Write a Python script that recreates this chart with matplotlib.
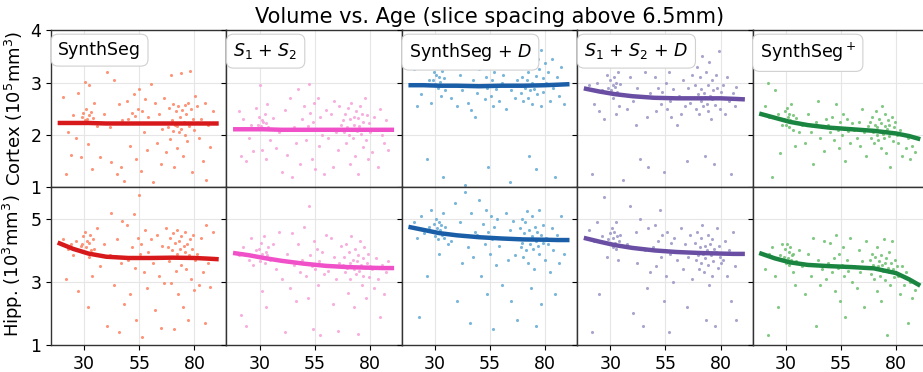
import matplotlib
matplotlib.use("Agg")
import matplotlib.pyplot as plt

# ages of the subjects (shared by all panels)
ages = [20.5, 21.8, 22.6, 23.9, 25.1, 26.3, 27.2, 28.4,
        29.1, 29.7, 30.2, 30.6, 31.0, 31.3, 31.7, 32.0, 32.4, 32.8, 33.1, 33.5, 34.0, 34.6, 35.9,
        37.4, 38.9, 40.2, 41.5, 42.3, 43.6, 44.8, 45.7, 46.5, 47.3, 48.2,
        49.3, 50.1, 50.9, 51.8, 52.5, 53.0, 53.6, 54.2, 54.8, 55.3, 55.9, 56.4, 57.0, 57.6, 58.3, 59.1, 60.2,
        61.0, 62.2, 63.1, 63.9, 64.7, 65.4, 66.2, 67.1,
        67.9, 68.4, 68.8, 69.3, 69.7, 70.1, 70.5, 70.9, 71.2, 71.6, 72.0, 72.3, 72.7, 73.0, 73.4, 73.8,
        74.1, 74.5, 74.8, 75.2, 75.6, 75.9, 76.3, 76.7, 77.0, 77.4, 77.9, 78.3, 78.8, 79.2, 79.7, 80.3,
        81.1, 82.0, 82.9, 83.7, 84.6, 85.4, 86.3, 87.2, 88.4]

# cortex volumes (10^5 mm^3)
cortex_synthseg = [2.72, 1.26, 2.05, 1.62, 2.38, 1.95, 2.80, 1.58,
                   2.35, 2.42, 3.02, 2.28, 2.50, 2.31, 1.82, 2.38, 2.95, 2.25, 2.44, 1.36, 2.33, 2.62, 2.18,
                   1.58, 2.40, 3.20, 2.15, 1.48, 3.05, 1.25, 2.60, 1.40, 2.28, 1.12,
                   2.65, 2.30, 1.80, 2.42, 2.78, 2.36, 1.55, 2.50, 2.88, 2.22, 1.32, 2.45, 2.05, 2.68, 1.72, 2.35, 2.98,
                   1.10, 2.62, 1.85, 2.40, 1.45, 2.12, 2.70, 1.68,
                   2.15, 2.52, 1.92, 3.15, 2.28, 2.08, 2.60, 1.40, 2.20, 2.45, 2.18, 1.75, 2.55, 2.05, 2.35, 3.18,
                   2.12, 2.48, 1.60, 2.25, 2.58, 2.00, 2.40, 1.88, 2.62, 2.18, 3.22, 2.50, 1.30, 2.30, 2.10, 2.75,
                   2.55, 1.95, 2.30, 1.50, 2.62, 1.15, 2.20, 1.78, 2.45]
cortex_s1s2 = [2.45, 1.60, 2.30, 1.50, 1.95, 2.20, 1.70, 2.52,
               2.20, 2.35, 2.95, 2.18, 2.28, 1.72, 2.25, 2.12, 2.40, 1.55, 2.22, 2.60, 2.15, 1.90, 2.32,
               1.75, 2.05, 1.30, 2.48, 1.62, 2.70, 1.20, 2.15, 1.85, 2.88, 1.45,
               2.30, 2.55, 1.90, 2.18, 2.98, 2.42, 1.55, 2.25, 2.62, 1.35, 2.10, 2.70, 1.80, 2.35, 2.00, 1.25, 2.48,
               1.95, 2.40, 1.40, 2.65, 2.05, 1.72, 2.55, 2.20,
               2.28, 2.05, 2.40, 1.85, 2.15, 2.52, 2.00, 1.45, 2.30, 2.62, 2.10, 1.95, 2.35, 2.20, 1.60, 2.45,
               2.08, 2.32, 1.25, 2.18, 2.55, 2.02, 2.40, 1.78, 2.25, 2.12, 2.70, 1.90, 2.38, 1.55, 2.22, 2.05,
               1.68, 2.35, 2.10, 1.40, 2.50, 2.00, 1.85, 2.28, 1.72]
cortex_synthseg_d = [3.25, 2.55, 2.95, 2.78, 3.35, 1.55, 3.05, 2.62,
                     3.05, 3.20, 2.98, 3.15, 3.30, 2.90, 3.10, 3.55, 3.02, 2.75, 3.22, 1.20, 3.08, 2.85, 3.40,
                     2.70, 3.35, 2.55, 3.15, 2.85, 1.05, 2.62, 3.28, 2.48, 3.05, 2.35,
                     2.80, 3.25, 2.95, 3.60, 2.68, 3.10, 2.90, 1.40, 3.35, 2.75, 3.05, 2.55, 3.20, 2.88, 3.45, 2.65, 3.00,
                     3.15, 2.50, 3.30, 1.10, 2.85, 3.50, 2.70, 3.05,
                     2.95, 3.30, 2.80, 3.55, 3.10, 2.65, 3.40, 2.90, 3.75, 3.05, 2.70, 3.20, 1.60, 2.85, 3.50, 3.00,
                     2.60, 3.35, 2.88, 3.85, 3.12, 1.35, 2.78, 3.45, 2.95, 3.25, 2.55, 3.62, 3.08, 2.82, 3.38, 3.00,
                     3.20, 2.65, 3.45, 2.90, 1.20, 3.10, 2.75, 3.30, 2.60]
cortex_s1s2_d = [2.95, 1.25, 2.60, 3.00, 2.45, 2.85, 2.30, 3.15,
                 2.90, 3.05, 2.85, 3.35, 2.95, 2.70, 3.10, 2.92, 2.40, 3.00, 2.82, 3.20, 2.55, 2.98, 1.15,
                 2.50, 3.10, 2.65, 2.20, 2.90, 1.55, 2.75, 3.20, 2.35, 1.40, 2.80,
                 2.70, 3.10, 2.45, 2.90, 3.35, 2.60, 2.82, 1.30, 2.72, 3.00, 2.50, 3.20, 2.65, 2.35, 2.88, 3.45, 2.20,
                 2.75, 2.40, 3.05, 2.55, 1.50, 2.90, 2.62, 3.15,
                 2.70, 2.95, 2.50, 3.30, 2.78, 2.40, 3.10, 2.65, 2.88, 3.50, 2.55, 2.80, 1.60, 2.72, 3.20, 2.60,
                 2.95, 2.45, 3.40, 2.75, 2.30, 3.05, 2.68, 2.85, 1.45, 2.58, 3.15, 2.90, 2.70, 3.60, 2.50, 2.82,
                 2.95, 2.40, 3.10, 2.65, 1.25, 2.80, 2.55, 2.92, 2.70]
cortex_synthseg_plus = [2.55, 3.00, 2.35, 1.20, 2.85, 2.40, 1.65, 2.20,
                        2.30, 2.45, 2.20, 2.52, 2.35, 2.15, 2.40, 2.28, 2.60, 2.25, 2.10, 2.38, 1.80, 2.32, 2.05,
                        2.20, 1.85, 2.40, 2.05, 1.45, 2.25, 2.65, 1.95, 2.15, 1.70, 2.30,
                        2.20, 2.05, 2.35, 1.90, 2.15, 2.60, 2.10, 1.75, 2.25, 2.00, 2.40, 2.12, 1.50, 2.30, 2.08, 1.85, 2.22,
                        2.10, 1.95, 2.25, 1.80, 2.50, 2.05, 1.60, 2.18,
                        2.10, 2.25, 1.95, 2.35, 2.05, 1.85, 2.20, 2.45, 2.00, 2.15, 1.90, 2.30, 2.08, 1.75, 2.22, 2.55,
                        2.02, 1.95, 2.18, 2.40, 1.65, 2.12, 2.28, 1.98, 2.20, 1.40, 2.05, 2.35, 1.88, 2.15, 2.25, 2.00,
                        1.85, 2.10, 1.60, 2.00, 1.75, 1.95, 1.55, 1.80, 1.68]

# hippocampus volumes (10^3 mm^3)
hipp_synthseg = [4.35, 3.10, 4.05, 4.20, 3.85, 4.30, 2.70, 4.15,
                 4.20, 4.45, 3.95, 4.60, 4.10, 4.30, 2.20, 4.25, 3.80, 4.50, 4.00, 3.20, 4.35, 4.05, 4.70,
                 3.50, 4.20, 1.60, 3.85, 5.20, 2.90, 4.35, 1.40, 3.60, 4.95, 2.30,
                 4.80, 3.70, 2.60, 4.10, 5.15, 3.45, 1.80, 4.40, 5.75, 3.90, 4.20, 1.25, 3.30, 4.65, 2.80, 3.95, 4.35,
                 3.60, 2.10, 4.50, 3.20, 1.55, 4.15, 2.95, 4.70,
                 4.10, 3.65, 4.40, 2.95, 4.00, 4.55, 3.80, 1.50, 4.25, 3.35, 4.65, 3.90, 2.60, 4.30, 4.05, 3.55,
                 4.45, 3.75, 2.20, 4.15, 3.95, 4.60, 3.40, 4.20, 1.80, 3.85, 4.35, 3.10, 4.05, 4.50, 2.75, 3.70,
                 3.90, 2.90, 4.40, 3.30, 1.70, 4.80, 3.60, 2.85, 4.60]
hipp_s1s2 = [3.85, 1.95, 4.10, 1.60, 3.70, 4.40, 3.55, 4.00,
             3.80, 4.05, 3.65, 4.25, 3.90, 2.70, 3.75, 4.45, 3.60, 3.95, 2.20, 3.85, 4.10, 3.70, 4.20,
             3.40, 4.60, 3.10, 1.40, 3.90, 2.80, 4.55, 3.55, 2.40, 4.20, 3.30,
             3.70, 4.75, 3.20, 2.50, 5.40, 3.85, 3.50, 1.50, 4.30, 3.40, 4.05, 2.90, 3.65, 1.30, 3.95, 3.25, 4.50,
             3.35, 4.40, 2.30, 3.80, 3.10, 1.45, 3.60, 4.15,
             3.55, 3.80, 3.30, 4.20, 3.45, 2.65, 3.95, 3.60, 3.10, 4.45, 3.50, 3.70, 2.20, 3.40, 4.05, 3.25,
             3.65, 1.35, 3.85, 3.35, 4.30, 3.55, 2.90, 3.75, 3.20, 4.10, 3.45, 2.50, 3.60, 3.90, 3.15, 3.50,
             3.40, 2.80, 3.75, 3.10, 1.90, 3.55, 2.60, 3.30, 3.65]
hipp_synthseg_d = [4.90, 4.40, 1.90, 5.10, 4.55, 3.20, 4.75, 5.30,
                   4.60, 4.85, 4.45, 5.00, 4.70, 4.35, 4.90, 3.90, 4.65, 4.80, 4.50, 5.20, 4.40, 4.75, 4.20,
                   4.30, 5.50, 2.40, 4.90, 3.60, 5.85, 4.10, 1.70, 5.20, 3.80, 4.60,
                   4.50, 5.60, 3.20, 4.85, 4.20, 5.30, 2.60, 4.60, 3.90, 5.10, 4.35, 1.50, 4.75, 3.55, 5.00, 4.15, 2.90,
                   4.40, 5.20, 3.70, 4.65, 2.40, 4.95, 3.85, 1.80,
                   4.40, 4.70, 4.10, 5.00, 4.25, 3.80, 4.55, 4.90, 4.00, 5.25, 4.35, 3.60, 4.65, 4.20, 2.80, 4.45,
                   5.10, 4.05, 3.40, 4.75, 4.30, 1.60, 4.60, 4.15, 5.30, 3.90, 4.50, 2.30, 4.80, 4.25, 3.70, 4.40,
                   4.20, 3.30, 4.70, 4.00, 2.60, 4.50, 3.60, 5.10, 3.90]
hipp_s1s2_d = [4.65, 1.40, 4.30, 4.90, 2.60, 4.45, 5.70, 3.80,
               4.35, 4.55, 4.20, 4.70, 4.40, 4.10, 4.60, 4.25, 4.90, 4.05, 4.45, 3.70, 4.30, 4.50, 4.15,
               4.20, 5.40, 2.00, 4.60, 3.60, 5.00, 1.60, 4.00, 2.80, 4.70, 3.30,
               4.10, 4.80, 3.50, 4.30, 5.30, 3.80, 4.50, 2.40, 4.00, 3.20, 4.60, 1.40, 3.90, 4.25, 3.00, 4.40, 3.70,
               3.95, 4.70, 3.40, 4.20, 2.20, 3.80, 4.50, 3.10,
               3.95, 4.25, 3.70, 4.60, 3.85, 3.40, 4.10, 4.40, 3.60, 4.80, 3.90, 3.30, 4.15, 3.75, 1.80, 4.00,
               4.50, 3.55, 2.90, 4.20, 3.85, 3.20, 4.35, 3.65, 4.05, 1.60, 3.95, 4.70, 3.45, 4.15, 3.80, 3.60,
               3.70, 4.30, 3.20, 4.00, 2.40, 4.60, 3.50, 1.80, 3.90]
hipp_synthseg_plus = [3.40, 1.30, 3.90, 4.10, 3.20, 2.20, 3.85, 4.20,
                      3.80, 4.05, 3.60, 4.20, 3.75, 3.95, 3.55, 4.10, 3.70, 3.85, 3.30, 3.90, 2.90, 3.65, 4.00,
                      3.50, 2.60, 3.90, 3.20, 4.40, 1.60, 3.70, 2.90, 3.40, 4.30, 3.10,
                      3.60, 4.25, 3.30, 3.75, 2.70, 4.50, 3.45, 3.90, 2.40, 3.55, 4.10, 3.20, 1.90, 3.70, 3.35, 4.40, 3.00,
                      3.50, 2.80, 4.00, 3.30, 3.65, 2.20, 4.30, 3.45,
                      3.45, 3.70, 3.25, 3.90, 3.55, 3.10, 3.80, 3.40, 2.70, 4.10, 3.50, 3.65, 3.20, 3.85, 2.40, 3.55,
                      3.35, 4.35, 3.60, 3.05, 3.75, 1.30, 3.45, 3.95, 3.30, 2.90, 3.60, 4.30, 3.40, 3.15, 3.70, 3.50,
                      3.20, 2.60, 3.50, 2.90, 3.30, 1.70, 3.00, 2.50, 2.75]

# fitted trends
fit_ages = [18, 25, 32, 40, 50, 60, 70, 80, 86, 91]
fit_cortex = [
    [2.23, 2.23, 2.23, 2.22, 2.22, 2.22, 2.22, 2.22, 2.22, 2.22],
    [2.11, 2.11, 2.11, 2.10, 2.10, 2.10, 2.10, 2.10, 2.10, 2.10],
    [2.95, 2.95, 2.94, 2.94, 2.93, 2.94, 2.94, 2.95, 2.96, 2.97],
    [2.89, 2.83, 2.78, 2.74, 2.71, 2.70, 2.70, 2.70, 2.69, 2.68],
    [2.41, 2.33, 2.25, 2.19, 2.14, 2.11, 2.08, 2.03, 1.98, 1.92],
]
fit_hipp = [
    [4.25, 4.05, 3.90, 3.80, 3.76, 3.76, 3.77, 3.76, 3.74, 3.72],
    [3.92, 3.85, 3.76, 3.67, 3.58, 3.51, 3.47, 3.45, 3.44, 3.44],
    [4.75, 4.65, 4.55, 4.48, 4.42, 4.38, 4.35, 4.34, 4.33, 4.33],
    [4.40, 4.28, 4.17, 4.08, 4.00, 3.95, 3.92, 3.90, 3.89, 3.89],
    [3.92, 3.75, 3.62, 3.54, 3.50, 3.47, 3.43, 3.28, 3.08, 2.88],
]

methods = ["SynthSeg", "$S_1$ + $S_2$", "SynthSeg + $D$", "$S_1$ + $S_2$ + $D$", "SynthSeg$^+$"]
cortex_data = [cortex_synthseg, cortex_s1s2, cortex_synthseg_d, cortex_s1s2_d, cortex_synthseg_plus]
hipp_data = [hipp_synthseg, hipp_s1s2, hipp_synthseg_d, hipp_s1s2_d, hipp_synthseg_plus]
point_colors = ["#fc8a6a", "#f7a6dc", "#6aaed6", "#9e9ac8", "#74c476"]
line_colors = ["#d7191c", "#f050c8", "#1b5ea8", "#6a4ea3", "#1a8540"]

fig, axes = plt.subplots(2, 5, figsize=(9.23, 3.72), dpi=100, sharex=True)
fig.subplots_adjust(left=0.0553, right=1.0054, top=0.919, bottom=0.073, wspace=0, hspace=0)

for j in range(5):
    for i, (data, fits) in enumerate([(cortex_data, fit_cortex), (hipp_data, fit_hipp)]):
        ax = axes[i, j]
        ax.scatter(ages, data[j], s=5, color=point_colors[j], alpha=0.9, linewidths=0, zorder=2)
        ax.plot(fit_ages, fits[j], color=line_colors[j], linewidth=3.2, solid_capstyle='butt', zorder=3)
        ax.set_xlim(15, 94.5)
        ax.grid(True, color='#e6e6e6', linewidth=0.8, zorder=0)
        ax.set_axisbelow(True)
        for sp in ax.spines.values():
            sp.set_color('#333333')
            sp.set_linewidth(1.0)
        if i == 0:
            ax.set_ylim(1, 4)
            ax.set_yticks([1, 2, 3, 4])
            ax.text(0.04, 0.93, methods[j], transform=ax.transAxes, fontsize=12.5,
                    va='top', ha='left',
                    bbox=dict(boxstyle='round,pad=0.4', fc='white', ec='#d0d0d0', lw=0.8))
        else:
            ax.set_ylim(1, 6)
            ax.set_yticks([1, 3, 5])
        ax.set_xticks([30, 55, 80])
        ax.tick_params(labelsize=12.5)
        if j > 0:
            ax.tick_params(labelleft=False)

axes[0, 0].set_ylabel("Cortex (10$^5$mm$^3$)", fontsize=13)
axes[1, 0].set_ylabel("Hipp. (10$^3$mm$^3$)", fontsize=13)
fig.text(0.53, 0.955, "Volume vs. Age (slice spacing above 6.5mm)", fontsize=15,
         ha='center', va='center')

fig.savefig("out.png", dpi=100)
